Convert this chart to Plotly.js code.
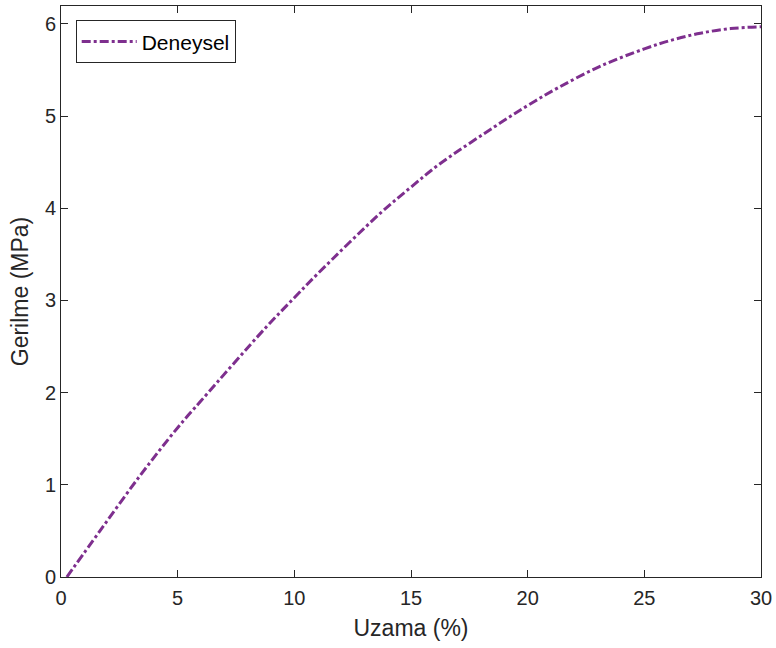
<!DOCTYPE html>
<html>
<head>
<meta charset="utf-8">
<script src="https://cdn.plot.ly/plotly-3.0.1.min.js"></script>
<style>html,body{margin:0;padding:0;background:#fff;}#chart{width:776px;height:648px;}</style>
</head>
<body>
<div id="chart"></div>
<script>
const strainPct = [0.25, 1.67, 3.36, 5.0, 6.03, 8.79, 10.0, 11.0, 13.7, 15.0, 16.17, 18.85, 20.03, 21.32, 23.1, 25.0, 26.25, 27.4, 28.7, 30.0];
const stressMPa = [0, 0.50, 1.09, 1.62, 1.92, 2.71, 3.03, 3.29, 3.95, 4.23, 4.47, 4.93, 5.12, 5.31, 5.54, 5.73, 5.83, 5.90, 5.95, 5.97];
const seriesName = 'Deneysel';
const xTicks = [0, 5, 10, 15, 20, 25, 30];
const yTicks = [0, 1, 2, 3, 4, 5, 6];

const fontFam = 'Liberation Sans, Arial, Helvetica, sans-serif';
const ink = '#262626';

const trace = {
  x: strainPct, y: stressMPa, name: seriesName, type: 'scatter', mode: 'lines',
  line: {color: '#7E2F8E', width: 3, dash: 'dashdot', shape: 'spline', smoothing: 1}
};

const axisCommon = {
  showgrid: false, zeroline: false, showline: true, linecolor: ink, linewidth: 1,
  mirror: 'ticks', ticks: 'inside', ticklen: 7, tickwidth: 1, tickcolor: ink,
  tickfont: {family: fontFam, size: 20, color: ink}
};

const layout = {
  width: 776, height: 648,
  margin: {l: 61, r: 15, t: 6, b: 71},
  paper_bgcolor: '#fff', plot_bgcolor: '#fff',
  showlegend: true,
  legend: {x: 0.021, y: 0.975, xanchor: 'left', yanchor: 'top', bgcolor: '#fff', itemwidth: 55,
           bordercolor: ink, borderwidth: 1, font: {family: fontFam, size: 21, color: '#000'}},
  xaxis: Object.assign({}, axisCommon, {range: [0, 30], tickvals: xTicks, ticktext: xTicks.map(String),
    ticklabelstandoff: 3,
    title: {text: 'Uzama (%)', font: {family: fontFam, size: 23, color: ink}, standoff: 11}}),
  yaxis: Object.assign({}, axisCommon, {range: [0, 6.195], tickvals: yTicks, ticktext: yTicks.map(String),
    title: {text: 'Gerilme (MPa)', font: {family: fontFam, size: 23, color: ink}, standoff: 9}})
};

Plotly.newPlot('chart', [trace], layout, {displayModeBar: false, staticPlot: true});
</script>
</body>
</html>
